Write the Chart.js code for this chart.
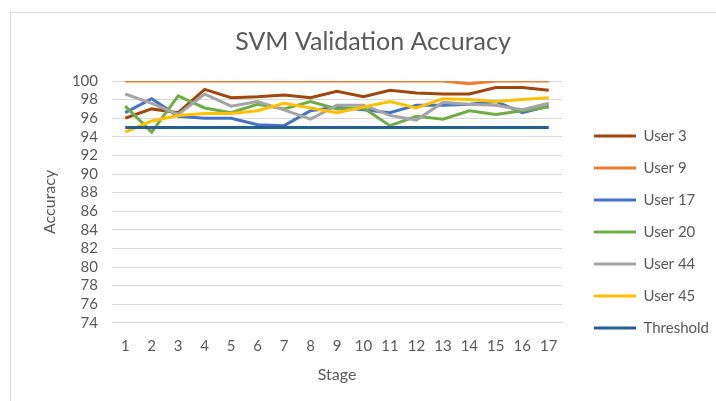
<!DOCTYPE html>
<html>
<head>
<meta charset="utf-8">
<script src="https://cdn.jsdelivr.net/npm/chart.js@4"></script>
<style>
  body { margin: 0; background: #fff; }
  #wrap { position: relative; width: 716px; height: 401px; overflow: hidden; }
  #frame { position: absolute; left: 10px; top: 12px; width: 720px; height: 400px; border: 1px solid #d9d9d9; }
  canvas { position: absolute; left: 0; top: 0; }
</style>
</head>
<body>
<div id="wrap">
  <div id="frame"></div>
  <canvas id="chart" width="716" height="401"></canvas>
</div>
<script>
// Chart data
const stages = ['1', '2', '3', '4', '5', '6', '7', '8', '9', '10', '11', '12', '13', '14', '15', '16', '17'];
const user3 = [96.0, 97.0, 96.6, 99.1, 98.2, 98.3, 98.5, 98.2, 98.9, 98.3, 99.0, 98.7, 98.6, 98.6, 99.3, 99.3, 99.0];
const user9 = [100, 100, 100, 100, 100, 100, 100, 100, 100, 100, 100, 100, 100, 99.7, 100, 100, 100];
const user17 = [96.6, 98.1, 96.2, 96.0, 96.0, 95.3, 95.2, 96.8, 97.2, 96.9, 96.6, 97.4, 97.4, 97.5, 97.8, 96.6, 97.3];
const user20 = [97.3, 94.5, 98.4, 97.1, 96.6, 97.5, 97.0, 97.8, 97.0, 97.1, 95.2, 96.2, 95.9, 96.8, 96.4, 96.8, 97.2];
const user44 = [98.6, 97.6, 96.4, 98.6, 97.3, 97.8, 96.9, 95.9, 97.4, 97.4, 96.3, 95.8, 97.7, 97.5, 97.4, 96.9, 97.6];
const user45 = [94.5, 95.7, 96.3, 96.5, 96.5, 96.8, 97.6, 97.1, 96.6, 97.2, 97.8, 97.1, 98.1, 98.0, 97.8, 98.0, 98.2];
const threshold = [95, 95, 95, 95, 95, 95, 95, 95, 95, 95, 95, 95, 95, 95, 95, 95, 95];

const seriesNames = ['User 3', 'User 9', 'User 17', 'User 20', 'User 44', 'User 45', 'Threshold'];
const seriesValues = [user3, user9, user17, user20, user44, user45, threshold];
const seriesColors = ['#9E480E', '#ED7D31', '#4472C4', '#70AD47', '#A5A5A5', '#FFC000', '#255E91'];

const textColor = '#595959';
const fontFamily = 'Lato, "Open Sans", sans-serif';

const datasets = seriesNames.map((name, i) => ({
    label: name,
    data: seriesValues[i],
    borderColor: seriesColors[i],
    backgroundColor: seriesColors[i],
    borderWidth: 3,
    pointRadius: 0,
    tension: 0,
    fill: false,
    order: seriesNames.length - i   // later series drawn on top, like Excel
}));

const ctx = document.getElementById('chart').getContext('2d');
new Chart(ctx, {
    type: 'line',
    data: { labels: stages, datasets: datasets },
    options: {
        responsive: false,
        animation: false,
        layout: { padding: { left: 30, right: 0, top: 14, bottom: 13 } },
        plugins: {
            title: {
                display: true,
                text: 'SVM Validation Accuracy',
                color: textColor,
                font: { family: fontFamily, size: 25, weight: 'normal' },
                padding: { top: 13, bottom: 24 }
            },
            legend: {
                position: 'right',
                maxWidth: 139,
                // blank title only pushes the items down a bit
                title: {
                    display: true,
                    text: ' ',
                    font: { size: 10 },
                    padding: { top: 25, bottom: 25 }
                },
                labels: {
                    color: textColor,
                    font: { family: fontFamily, size: 15 },
                    usePointStyle: true,
                    pointStyle: 'line',
                    pointStyleWidth: 42,
                    padding: 17,
                    sort: (a, b) => a.datasetIndex - b.datasetIndex
                }
            },
            tooltip: { enabled: false }
        },
        scales: {
            x: {
                offset: true,
                grid: { display: false },
                border: { display: true, color: '#d9d9d9' },
                ticks: {
                    color: textColor,
                    font: { family: fontFamily, size: 15 },
                    maxRotation: 0,
                    autoSkip: false,
                    padding: 6
                },
                title: {
                    display: true,
                    text: 'Stage',
                    color: textColor,
                    font: { family: fontFamily, size: 16 },
                    padding: { top: 4 }
                }
            },
            y: {
                min: 74,
                max: 100,
                afterFit: (scale) => { scale.width = 82; },
                grid: { color: '#d9d9d9', drawTicks: false },
                border: { display: false },
                ticks: {
                    stepSize: 2,
                    autoSkip: false,
                    color: textColor,
                    font: { family: fontFamily, size: 15 },
                    padding: 14
                },
                title: {
                    display: true,
                    text: 'Accuracy',
                    color: textColor,
                    font: { family: fontFamily, size: 16 },
                    padding: { top: 10, bottom: 8 }
                }
            },
            // empty axis that only keeps a gap between plot and legend
            gap: {
                position: 'right',
                min: 74,
                max: 100,
                afterFit: (scale) => { scale.width = 15; },
                grid: { display: false },
                border: { display: false },
                ticks: { display: false }
            }
        }
    }
});
</script>
</body>
</html>
